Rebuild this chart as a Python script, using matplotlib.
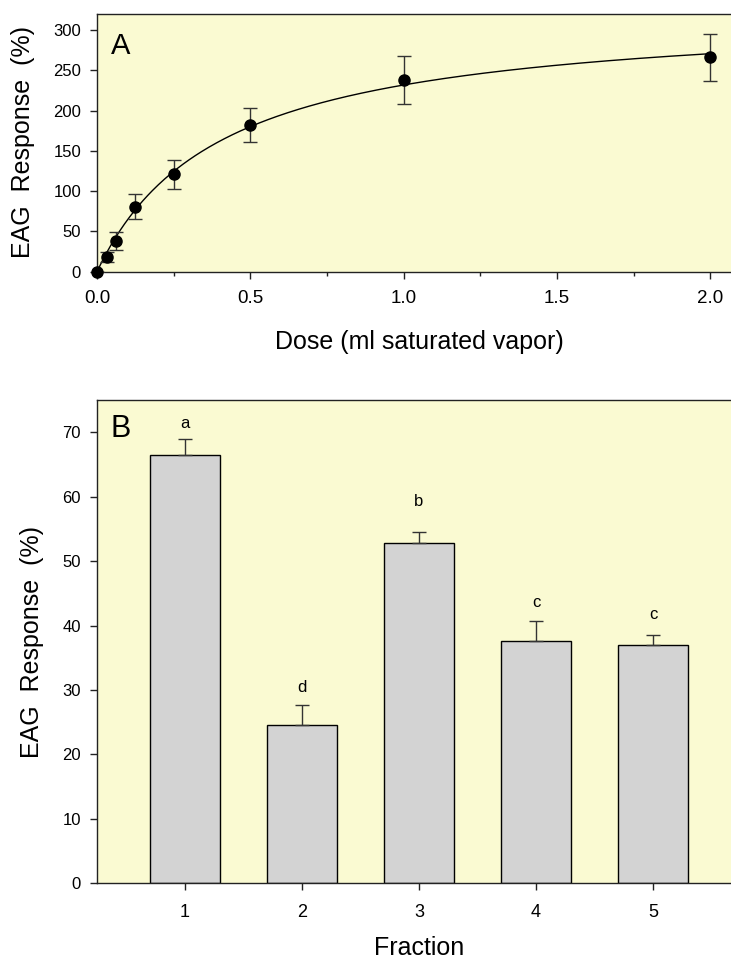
import numpy as np
import matplotlib
matplotlib.use("Agg")
import matplotlib.pyplot as plt
from matplotlib.ticker import MultipleLocator

plt.rcParams['font.family'] = ['Liberation Sans', 'DejaVu Sans']

# panel A: dose-response
dose = [0.0, 0.03125, 0.0625, 0.125, 0.25, 0.5, 1.0, 2.0]
response = [0.0, 18.6, 38.5, 80.7, 121.2, 182.0, 238.0, 266.0]
response_err = [0.0, 6.0, 11.0, 15.5, 18.0, 20.7, 29.5, 29.6]

# panel B: fractions
fractions = [1, 2, 3, 4, 5]
frac_mean = [66.4, 24.5, 52.8, 37.6, 37.0]
frac_err = [2.6, 3.2, 1.7, 3.1, 1.5]
frac_letters = ['a', 'd', 'b', 'c', 'c']
letter_y = [70.6, 29.7, 58.6, 42.9, 41.0]

BG = '#FAFAD2'
EDGE = '#222222'


def fit_hyperbola(x, y):
    # least squares for y = vmax*x/(k+x), scanning k, vmax closed form
    x = np.asarray(x)
    y = np.asarray(y)
    best = None
    for k in np.linspace(0.01, 2.0, 4000):
        f = x / (k + x)
        vmax = np.sum(y * f) / np.sum(f * f)
        sse = np.sum((y - vmax * f) ** 2)
        if best is None or sse < best[0]:
            best = (sse, vmax, k)
    return best[1], best[2]


def style_axes(ax):
    ax.set_facecolor(BG)
    for side in ['left', 'bottom', 'top']:
        ax.spines[side].set_color(EDGE)
        ax.spines[side].set_linewidth(1.0)
    ax.spines['right'].set_visible(False)
    ax.tick_params(which='both', direction='out', color=EDGE, width=1.0,
                   top=False, right=False)
    ax.tick_params(which='major', length=5)
    ax.tick_params(which='minor', length=3)
    ax.tick_params(axis='y', labelsize=12, pad=6.5)


fig = plt.figure(figsize=(7.31, 9.64), dpi=100)
W, H = 731.0, 964.0

# ---- panel A
axA = fig.add_axes([97 / W, 1 - 271.7 / H, (741 - 97) / W, (271.7 - 14) / H])
style_axes(axA)
vmax, km = fit_hyperbola(dose, response)
xs = np.linspace(0, max(dose), 400)
axA.plot(xs, vmax * xs / (km + xs), color='black', lw=1.0, zorder=2)
eb = axA.errorbar(dose, response, yerr=response_err, fmt='o', color='black',
                  ms=8, ecolor='#333333', elinewidth=1.0, capsize=5,
                  capthick=1.0, zorder=3)
eb[0].set_clip_on(False)
axA.set_xlim(0, 2.1)
axA.set_ylim(0, 320)
axA.xaxis.set_minor_locator(MultipleLocator(0.25))
axA.yaxis.set_major_locator(MultipleLocator(50))
axA.set_xticks([0, 0.5, 1.0, 1.5, 2.0])
axA.set_xticklabels(['0.0', '0.5', '1.0', '1.5', '2.0'])
axA.tick_params(axis='x', labelsize=13.5, pad=8)
axA.text(0.0213, 0.8448, 'A', transform=axA.transAxes, fontsize=21,
         ha='left', va='baseline')

fig.text(23 / W, 1 - 142.5 / H, 'EAG  Response  (%)', rotation=90,
         fontsize=18, ha='center', va='center')
fig.text(419 / W, 1 - 342 / H, 'Dose (ml saturated vapor)', fontsize=18,
         ha='center', va='center')

# ---- panel B
axB = fig.add_axes([97 / W, 1 - 883.3 / H, (741 - 97) / W, (883.3 - 400) / H])
style_axes(axB)
lower = [0] * len(frac_err)
axB.bar(fractions, frac_mean, width=0.6, color='#D3D3D3', edgecolor='black',
        linewidth=1.0, zorder=2)
axB.errorbar(fractions, frac_mean, yerr=[lower, frac_err], fmt='none',
             ecolor='#333333', elinewidth=1.0, capsize=5, capthick=1.0,
             zorder=3)
for xi, yi, lab in zip(fractions, letter_y, frac_letters):
    axB.text(xi, yi, lab, fontsize=12, ha='center', va='baseline')
axB.set_xlim(0.25, 5.75)
axB.set_ylim(0, 75)
axB.set_xticks(fractions)
axB.yaxis.set_major_locator(MultipleLocator(10))
axB.tick_params(axis='x', labelsize=13, pad=10)
axB.text(13 / 644, 0.924, 'B', transform=axB.transAxes, fontsize=22,
         ha='left', va='baseline')

fig.text(32 / W, 1 - 641.5 / H, 'EAG  Response  (%)', rotation=90,
         fontsize=18, ha='center', va='center')
fig.text(419 / W, 1 - 948 / H, 'Fraction', fontsize=18,
         ha='center', va='center')

fig.savefig('out.png', dpi=100, facecolor='white')
